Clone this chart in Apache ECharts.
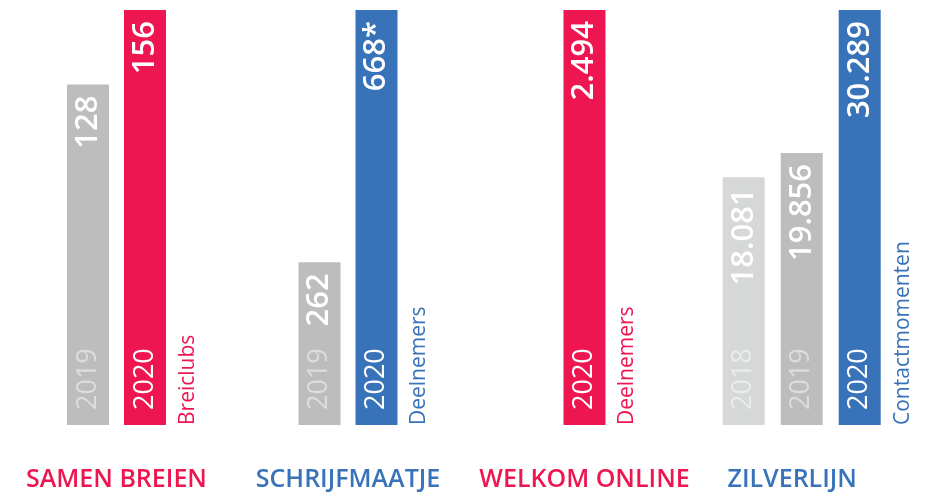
<!DOCTYPE html>
<html><head><meta charset="utf-8">
<script src="https://cdn.jsdelivr.net/npm/echarts@6/dist/echarts.min.js"></script>
<style>html,body{margin:0;padding:0;background:#fff}#c{width:925px;height:497px}</style>
</head><body><div id="c"></div>
<script>
const groupNames = ['SAMEN BREIEN', 'SCHRIJFMAATJE', 'WELKOM ONLINE', 'ZILVERLIJN'];
const unitNames = ['Breiclubs', 'Deelnemers', 'Deelnemers', 'Contactmomenten'];
const samenYears = ['2019', '2020'];
const samenValues = [128, 156];
const schrijfYears = ['2019', '2020'];
const schrijfValues = [262, 668];
const schrijfNotes = ['', '*'];
const welkomYears = ['2020'];
const welkomValues = [2494];
const zilverYears = ['2018', '2019', '2020'];
const zilverValues = [18081, 19856, 30289];

const PINK = '#ee1651', BLUE = '#3873b9', GRAY = '#bcbdbc', LGRAY = '#d6d8d8';
const groups = [
  {years: samenYears, values: samenValues, notes: ['', ''], main: PINK},
  {years: schrijfYears, values: schrijfValues, notes: schrijfNotes, main: BLUE},
  {years: welkomYears, values: welkomValues, notes: [''], main: PINK},
  {years: zilverYears, values: zilverValues, notes: ['', '', ''], main: BLUE}
];
const gridBoxes = [
  {left: 59.5, width: 114},
  {left: 291, width: 114},
  {left: 556, width: 57},
  {left: 714.7, width: 174}
];
const FONT = '"Open Sans", "Noto Sans", sans-serif';
function fmt(n) { return String(n).replace(/\B(?=(\d{3})+(?!\d))/g, '.'); }
function barColor(g, y) {
  if (y === '2020') return groups[g].main;
  if (y === '2019') return GRAY;
  return LGRAY;
}
function yearColor(y) {
  if (y === '2020') return '#ffffff';
  if (y === '2019') return '#dcdddc';
  return '#eaebeb';
}

const grid = [], xAxis = [], yAxis = [], series = [];
groups.forEach((g, i) => {
  grid.push({left: gridBoxes[i].left, width: gridBoxes[i].width, top: 10, bottom: 69});
  xAxis.push({
    type: 'category', gridIndex: i, data: g.years,
    axisLine: {show: false}, axisTick: {show: false}, axisLabel: {show: false},
    name: groupNames[i], nameLocation: 'middle', nameGap: 42,
    nameTextStyle: {
      color: groups[i].main, fontFamily: FONT, fontSize: 25, fontWeight: 600,
      padding: i === 3 ? [0, 19, 0, 0] : 0
    }
  });
  yAxis.push({
    type: 'value', gridIndex: i, min: 0, max: Math.max.apply(null, g.values),
    show: false, splitLine: {show: false}
  });
  series.push({
    type: 'bar', xAxisIndex: i, yAxisIndex: i, barWidth: 42, barGap: '-100%',
    silent: true,
    data: g.values.map((v, k) => ({
      value: v,
      itemStyle: {color: barColor(i, g.years[k])}
    })),
    label: {
      show: true, position: 'insideTop', rotate: 90, distance: 11,
      align: 'right', verticalAlign: 'middle',
      color: '#ffffff', fontFamily: FONT, fontSize: 31, fontWeight: 600,
      formatter: p => fmt(p.value) + g.notes[p.dataIndex]
    }
  });
  series.push({
    type: 'bar', xAxisIndex: i, yAxisIndex: i, barWidth: 42, barGap: '-100%',
    silent: true,
    itemStyle: {color: 'rgba(0,0,0,0)'},
    data: g.values.map((v, k) => ({
      value: v,
      label: {color: yearColor(g.years[k])}
    })),
    label: {
      show: true, position: 'insideBottom', rotate: 90, distance: 15,
      align: 'left', verticalAlign: 'middle',
      fontFamily: FONT, fontSize: 27, fontWeight: 400,
      formatter: p => g.years[p.dataIndex]
    }
  });
});

const chart = echarts.init(document.getElementById('c'), null, {renderer: 'canvas'});
chart.setOption({animation: false, backgroundColor: '#ffffff', grid, xAxis, yAxis, series});

const graphic = groups.map((g, i) => {
  const last = g.years.length - 1;
  const p = chart.convertToPixel({xAxisIndex: i, yAxisIndex: i}, [last, 0]);
  return {
    type: 'text', x: p[0] + 43, y: p[1], rotation: Math.PI / 2,
    style: {
      text: unitNames[i], fill: g.main, font: '400 21px ' + FONT,
      textAlign: 'left', textVerticalAlign: 'middle'
    }
  };
});
chart.setOption({graphic});
</script></body></html>
